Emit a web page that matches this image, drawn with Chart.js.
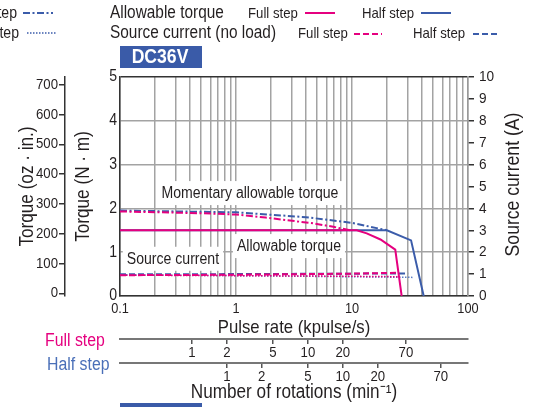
<!DOCTYPE html>
<html><head><meta charset="utf-8">
<script src="https://cdn.jsdelivr.net/npm/chart.js@4"></script>
<style>html,body{margin:0;padding:0;background:#fff;}#wrap{position:relative;width:536px;height:407px;}canvas{display:block}</style>
</head><body><div id="wrap"><canvas id="c" width="536" height="407"></canvas></div>
<script>
const FONT = "'Liberation Sans', Arial, sans-serif";
const SX = 0.88; // horizontal condensing of all text (condensed typeface look)
const MAGENTA = '#e5007f';
const BLUE = '#3b5caa';
const TXT = '#231f20';

// tick labels
const pulseTickLabels = [0.1, 1, 10, 100];
const rotationTicks = [1, 2, 5, 10, 20, 70];
const ozTicks = [0, 100, 200, 300, 400, 500, 600, 700];
const torqueTicks = [0, 1, 2, 3, 4, 5];
const currentTicks = [0, 1, 2, 3, 4, 5, 6, 7, 8, 9, 10];

// Allowable torque (N·m) vs pulse rate (kpulse/s)
const fullAllowX = [0.1, 11, 13.4, 17.6, 23.6, 26.8];
const fullAllowY = [1.5, 1.5, 1.43, 1.29, 1.06, 0];
const halfAllowX = [0.1, 20, 32.3, 41.5];
const halfAllowY = [1.5, 1.5, 1.27, 0];
// Momentary allowable torque (N·m)
const fullMomX = [0.1, 0.5, 1, 1.8, 4.6, 6.9, 9.6];
const fullMomY = [1.93, 1.89, 1.86, 1.79, 1.66, 1.58, 1.5];
const halfMomX = [0.1, 1, 4, 10, 20];
const halfMomY = [1.95, 1.91, 1.80, 1.67, 1.5];
// Source current (A)
const fullCurX = [0.1, 1, 10, 24.4];
const fullCurY = [0.95, 0.97, 1.02, 1.06];
const halfCurX = [0.1, 1, 10, 30.5];
const halfCurY = [0.99, 1.0, 1.02, 1.03];
const fullCurDotX = [0.1, 1, 10, 26];
const fullCurDotY = [0.95, 0.93, 0.9, 0.88];
const halfCurDotX = [0.1, 1, 10, 33.8];
const halfCurDotY = [0.97, 0.93, 0.88, 0.85];

const fullStepFactor = 2.4;   // rotation-scale units per kpulse/s (full step)
const halfStepFactor = 1.2;   // rotation-scale units per kpulse/s (half step)

const xy = (xs, ys) => xs.map((x, i) => ({x: x, y: ys[i]}));

const gridValues = [];
[0.1, 1, 10].forEach(d => { for (let m = 1; m <= 9; m++) gridValues.push(+(m * d).toPrecision(6)); });
gridValues.push(100);

const lineDs = (label, xs, ys, color, dash, axis, width) => ({
  label, data: xy(xs, ys), borderColor: color, borderWidth: width || 2,
  borderDash: dash || [], pointRadius: 0, fill: false, yAxisID: axis || 'y', tension: 0
});

const condense = {
  id: 'condense',
  beforeInit(chart) {
    const ctx = chart.ctx;
    if (ctx.__condensed) return;
    const orig = ctx.fillText;
    ctx.fillText = function (t, x, y, mw) {
      this.save();
      this.translate(x, y);
      this.scale(SX, 1);
      if (mw === undefined) orig.call(this, t, 0, 0); else orig.call(this, t, 0, 0, mw / SX);
      this.restore();
    };
    ctx.__condensed = true;
  }
};

const annotations = {
  id: 'annot',
  beforeDatasetsDraw(chart) {
    const ctx = chart.ctx, xs = chart.scales.x, ys = chart.scales.y;
    const labels = [
      ['Momentary allowable torque', 1.32, 2.35],
      ['Allowable torque', 2.86, 1.14],
      ['Source current', 0.286, 0.85]
    ];
    ctx.save();
    ctx.font = '16px ' + FONT;
    ctx.textAlign = 'center';
    ctx.textBaseline = 'middle';
    labels.forEach(([t, fx, fy]) => {
      const px = xs.getPixelForValue(fx), py = ys.getPixelForValue(fy);
      const w = ctx.measureText(t).width * SX + 8;
      ctx.fillStyle = '#fff';
      ctx.fillRect(px - w / 2, py - 12, w, 24);
      ctx.fillStyle = TXT;
      ctx.fillText(t, px, py + 1);
    });
    ctx.restore();
  },
  afterDraw(chart) {
    const ctx = chart.ctx;
    const line = (x1, x2, y, color, dash, w) => {
      ctx.save(); ctx.strokeStyle = color; ctx.lineWidth = w || 2; ctx.setLineDash(dash || []);
      ctx.beginPath(); ctx.moveTo(x1, y); ctx.lineTo(x2, y); ctx.stroke(); ctx.restore();
    };
    const text = (t, x, y, size, color, align, weight) => {
      ctx.save(); ctx.font = (weight ? weight + ' ' : '') + size + 'px ' + FONT;
      ctx.fillStyle = color || TXT; ctx.textAlign = align || 'left'; ctx.textBaseline = 'middle';
      ctx.fillText(t, x, y); ctx.restore();
    };
    // cut-off legend (left)
    text('Half step', 17, 14, 16, TXT, 'right');
    line(23, 53, 13, BLUE, [7, 2.5, 2, 2.5]);
    text('Half step', 19, 34, 16, TXT, 'right');
    line(27, 57, 33, BLUE, [1.5, 1.5], 1.5);
    // main legend
    text('Allowable torque', 110, 13, 17.5);
    text('Full step', 248, 14, 15);
    line(305, 335, 13, MAGENTA);
    text('Half step', 362, 14, 15);
    line(421, 451, 13, BLUE);
    text('Source current (no load)', 110, 33, 17.5);
    text('Full step', 298, 34, 15);
    line(354, 382, 34, MAGENTA, [6, 3]);
    text('Half step', 413, 34, 15);
    line(473, 500, 34, BLUE, [6, 3]);
    // DC36V badge
    ctx.save();
    ctx.fillStyle = '#3a5ba8';
    ctx.fillRect(120, 46, 82, 22);
    ctx.restore();
    text('DC36V', 160, 57.5, 20, '#fff', 'center', 'bold');
    // bottom bar
    ctx.save();
    ctx.fillStyle = '#3a5ba8';
    ctx.fillRect(120, 403, 82, 4);
    ctx.restore();
    // step labels for rotation axes
    text('Full step', 45, 341, 18, MAGENTA);
    text('Half step', 47, 365, 18, '#4a6fb8');
    // right axis title (reads bottom-to-top)
    const ca = chart.chartArea;
    ctx.save();
    ctx.translate(513, (ca.top + ca.bottom) / 2 - 2);
    ctx.rotate(-Math.PI / 2);
    ctx.font = '20px ' + FONT; ctx.fillStyle = TXT; ctx.textAlign = 'center'; ctx.textBaseline = 'middle';
    ctx.fillText('Source current (A)', 0, 0);
    ctx.restore();
  }
};

new Chart(document.getElementById('c'), {
  type: 'line',
  data: {
    datasets: [
      lineDs('Allowable torque full step', fullAllowX, fullAllowY, MAGENTA),
      lineDs('Momentary allowable torque full step', fullMomX, fullMomY, MAGENTA, [7, 2.5, 2, 2.5]),
      lineDs('Source current full step', fullCurX, fullCurY, MAGENTA, [6, 3], 'yA'),
      lineDs('Source current full step (dotted)', fullCurDotX, fullCurDotY, MAGENTA, [1.5, 1.5], 'yA', 1.5),
      lineDs('Allowable torque half step', halfAllowX, halfAllowY, BLUE),
      lineDs('Momentary allowable torque half step', halfMomX, halfMomY, BLUE, [7, 2.5, 2, 2.5]),
      lineDs('Source current half step', halfCurX, halfCurY, BLUE, [6, 3], 'yA'),
      lineDs('Source current half step (dotted)', halfCurDotX, halfCurDotY, '#5a7cc4', [1.5, 1.5], 'yA', 1.5)
    ]
  },
  options: {
    responsive: false,
    animation: false,
    events: [],
    layout: {padding: {top: 77, left: 0, right: 0, bottom: 3}},
    plugins: {legend: {display: false}, tooltip: {enabled: false}},
    scales: {
      x: {
        type: 'logarithmic', position: 'bottom', min: 0.1, max: 100, weight: 0,
        afterBuildTicks: s => { s.ticks = gridValues.map(v => ({value: v})); },
        ticks: {autoSkip: false, maxRotation: 0, padding: 4, color: TXT,
          font: {family: FONT, size: 14.5},
          callback: v => pulseTickLabels.some(p => Math.abs(p - v) < 1e-9) ? String(v) : ''},
        grid: {color: '#a3a3a3', lineWidth: 1.5, drawTicks: false},
        border: {color: '#333', width: 1.5},
        title: {display: true, text: 'Pulse rate (kpulse/s)', color: TXT,
          font: {family: FONT, size: 19}, padding: {top: 0, bottom: 0}},
        afterFit: s => { s.height = 43; }
      },
      xFull: {
        type: 'logarithmic', position: 'bottom', min: 0.1 * fullStepFactor, max: 100 * fullStepFactor, weight: 1,
        afterBuildTicks: s => { s.ticks = rotationTicks.map(v => ({value: v})); },
        ticks: {autoSkip: false, maxRotation: 0, padding: 0, color: TXT,
          font: {family: FONT, size: 15}, callback: v => String(v)},
        grid: {drawOnChartArea: false, drawTicks: true, tickLength: 5, color: '#555', lineWidth: 1.5},
        border: {color: '#777', width: 2},
        afterFit: s => { s.height = 24; }
      },
      xHalf: {
        type: 'logarithmic', position: 'bottom', min: 0.1 * halfStepFactor, max: 100 * halfStepFactor, weight: 2,
        afterBuildTicks: s => { s.ticks = rotationTicks.map(v => ({value: v})); },
        ticks: {autoSkip: false, maxRotation: 0, padding: 0, color: TXT,
          font: {family: FONT, size: 15}, callback: v => String(v)},
        grid: {drawOnChartArea: false, drawTicks: true, tickLength: 5, color: '#555', lineWidth: 1.5},
        border: {color: '#777', width: 2},
        title: {display: true, text: 'Number of rotations (min⁻¹)', color: TXT,
          font: {family: FONT, size: 19.5}, padding: {top: 0, bottom: 0}},
        afterFit: s => { s.height = 41; }
      },
      y: {
        type: 'linear', position: 'left', min: 0, max: 5, weight: 0,
        afterBuildTicks: s => { s.ticks = torqueTicks.map(v => ({value: v})); },
        ticks: {padding: 3, color: TXT, font: {family: FONT, size: 16}},
        grid: {color: c => (c.tick && c.tick.value === 5) ? '#333' : '#a3a3a3', lineWidth: 1.5, drawTicks: false},
        border: {color: '#333', width: 1.5},
        title: {display: true, text: 'Torque (N · m)', color: TXT,
          font: {family: FONT, size: 19.5}, padding: {top: 7, bottom: 0}},
        afterFit: s => { s.width = 55; }
      },
      yOz: {
        type: 'linear', position: 'left', min: -9, max: 726, weight: 1,
        afterBuildTicks: s => { s.ticks = ozTicks.map(v => ({value: v})); },
        ticks: {padding: 1, color: TXT, font: {family: FONT, size: 15}},
        grid: {drawOnChartArea: false, drawTicks: true, tickLength: 6, color: '#333', lineWidth: 1.5},
        border: {color: '#333', width: 1.5},
        title: {display: true, text: 'Torque (oz · in.)', color: TXT,
          font: {family: FONT, size: 19.5}, padding: {top: 16, bottom: 0}},
        afterFit: s => { s.width = 65; }
      },
      yA: {
        type: 'linear', position: 'right', min: 0, max: 10,
        afterBuildTicks: s => { s.ticks = currentTicks.map(v => ({value: v})); },
        ticks: {padding: 5, color: TXT, font: {family: FONT, size: 15.5}},
        grid: {drawOnChartArea: false, drawTicks: true, tickLength: 6, color: '#333', lineWidth: 1.5},
        border: {color: '#999', width: 1.5},
        afterFit: s => { s.width = 68; }
      }
    }
  },
  plugins: [condense, annotations]
});
</script>
</body></html>
